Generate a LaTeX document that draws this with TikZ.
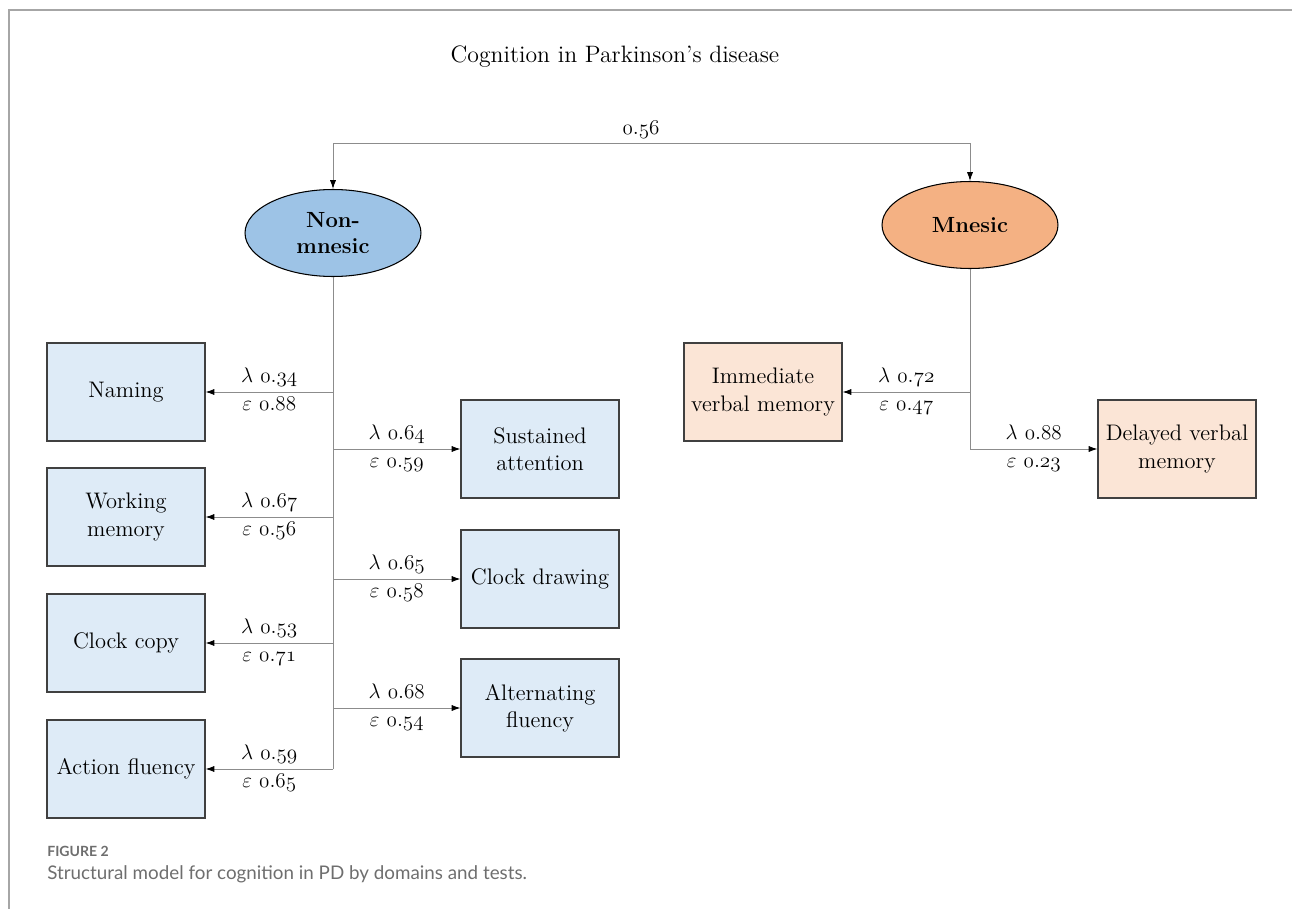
\documentclass[tikz,border=0pt]{standalone}
\usepackage{fontspec}
\newfontfamily\capfont{Lato}
\usetikzlibrary{shapes.geometric, arrows.meta}

\definecolor{nonfill}{HTML}{9DC3E6}
\definecolor{mnfill}{HTML}{F4B183}
\definecolor{nonbox}{HTML}{DEEBF7}
\definecolor{mnbox}{HTML}{FBE5D6}
\definecolor{capgray}{HTML}{6E6E6E}

\newcommand{\val}[2]{\legacyoldstylenums{#1}.\legacyoldstylenums{#2}}
\newcommand{\lam}[2]{$\lambda$ \val{#1}{#2}}
\newcommand{\eps}[2]{$\varepsilon$ \val{#1}{#2}}

\begin{document}
\begin{tikzpicture}[x=0.02cm, y=-0.02cm,
    test/.style={draw=black!75, fill=#1, line width=0.6pt, minimum width=3.16cm,
        minimum height=1.96cm, align=center, inner sep=2pt,
        font=\fontsize{12.8}{15.5}\selectfont},
    domain/.style={ellipse, draw=black, fill=#1, line width=0.6pt, minimum width=3.52cm,
        minimum height=1.74cm, align=center, inner sep=1pt,
        font=\bfseries\fontsize{12.5}{15}\selectfont},
    link/.style={draw=black!45, line width=0.55pt, -{Latex[length=5pt,width=3.5pt,color=black]}},
    trunk/.style={draw=black!45, line width=0.55pt},
    load/.style={font=\fontsize{12.5}{14}\selectfont, inner sep=2pt,
        text height=8.5pt, text depth=3pt}
]
    \useasboundingbox (0,0) rectangle (1292,909);
    \draw [black!35, line width=0.85pt] (9,909) -- (9,10) -- (1292,10);

    \node [font=\fontsize{13.5}{16}\selectfont] (title) at (615,57) {Cognition in Parkinson's disease};

    % latent domains
    \node [domain=nonfill] (non) at (333,233) {Non-\\mnesic};
    \node [domain=mnfill] (mn) at (970,225) {Mnesic};

    \draw [trunk, {Latex[length=5pt,width=3.5pt,color=black]}-{Latex[length=5pt,width=3.5pt,color=black]}]
        (non.north) -- ++(0,-45) -| (mn.north);
    \node [load] (cor) at (641,130) {\val{0}{56}};

    % tests
    \node [test=nonbox] (naming) at (126,392) {Naming};
    \node [test=nonbox] (working) at (126,517) {Working\\memory};
    \node [test=nonbox] (copy) at (126,643) {Clock copy};
    \node [test=nonbox] (action) at (126,769) {Action fluency};
    \node [test=nonbox] (sustained) at (540,449) {Sustained\\attention};
    \node [test=nonbox] (drawing) at (540,579) {Clock drawing};
    \node [test=nonbox] (alternating) at (540,708) {Alternating\\fluency};
    \node [test=mnbox] (immediate) at (763,392) {Immediate\\verbal memory};
    \node [test=mnbox] (delayed) at (1177,449) {Delayed verbal\\memory};

    % loadings
    \draw [trunk] (non.south) -- (non.south |- action.east);
    \foreach \t/\a/\c/\d in {naming/34/88/east, working/67/56/east, copy/53/71/east,
        action/59/65/east, sustained/64/59/west, drawing/65/58/west, alternating/68/54/west}
        \draw [link] (non.south |- \t.\d) -- node [load, above] {\lam{0}{\a}}
            node [load, below] {\eps{0}{\c}} (\t.\d);

    \draw [trunk] (mn.south) -- (mn.south |- delayed.west);
    \draw [link] (mn.south |- immediate.east) -- node [load, above] {\lam{0}{72}}
        node [load, below] {\eps{0}{47}} (immediate.east);
    \draw [link] (mn.south |- delayed.west) -- node [load, above] {\lam{0}{88}}
        node [load, below] {\eps{0}{23}} (delayed.west);

    % caption
    \node [anchor=west, text=capgray, font=\capfont\bfseries\fontsize{8}{9}\selectfont,
        inner sep=0pt] (fig) at (47,851) {FIGURE 2};
    \node [anchor=west, text=capgray, font=\capfont\fontsize{10.7}{12}\selectfont,
        inner sep=0pt] (cap) at (47,874) {Structural model for cognition in PD by domains and tests.};
\end{tikzpicture}
\end{document}
